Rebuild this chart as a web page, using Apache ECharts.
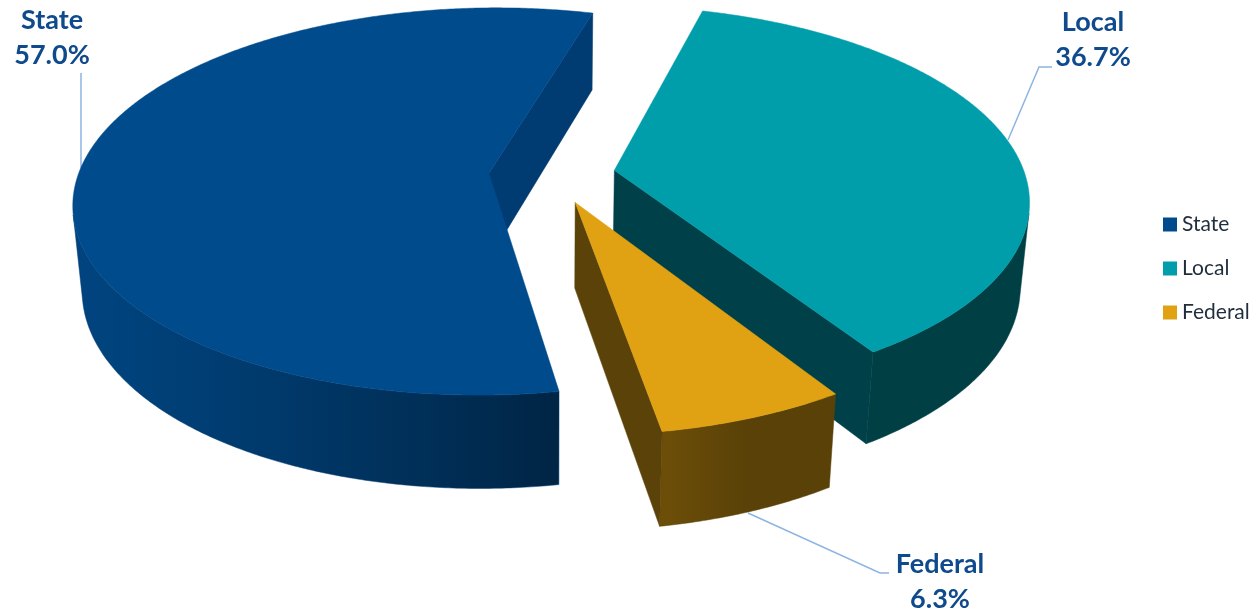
<!DOCTYPE html>
<html><head><meta charset="utf-8">
<script src="https://cdn.jsdelivr.net/npm/echarts@6/dist/echarts.min.js"></script>
<style>html,body{margin:0;padding:0;background:#fff}#c{width:1258px;height:613px}</style>
</head><body><div id="c"></div>
<script>
// ---- data ----
const categories = ['State', 'Local', 'Federal'];
const shares = [57.0, 36.7, 6.3];
const shareLabels = ['57.0%', '36.7%', '6.3%'];
const sliceColors = ['#004B8C', '#009EAA', '#E0A212'];

// ---- view / style ----
const firstSliceAngle = 170.3;            // degrees, clockwise from 12 o'clock
const PHI = 29.5 * Math.PI / 180, S = Math.sin(PHI), C = Math.cos(PHI);
const DIST = 6.07, FOC = 2445, CX = 552, CY = 259, THICK = 0.236, EXPLODE = 0.154;
const radialColors = ['#003B72', '#004149', '#5A4209'];
const labelPos = [[52, 38], [1093, 40], [940, 582]];
const leaderLines = [
  [[81, 73], [81, 168]],
  [[1052, 67], [1039, 67], [1008, 140]],
  [[889, 573], [880, 573], [748, 513]]
];
const labelColor = '#0E4A8C';
const leaderColor = '#8DB4E3';

function proj(X, Y, Z) {
  const depth = DIST - (Y * S + Z * C);
  const yp = Y * C - Z * S;
  return [CX + FOC * X / depth, CY - FOC * yp / depth];
}
function hexRgb(h) { return [1, 3, 5].map(k => parseInt(h.substr(k, 2), 16)); }
function shade(i, thetaDeg) {
  const f = 0.40 + 0.5 * Math.max(0, Math.cos((thetaDeg - 250) * Math.PI / 180));
  const c = hexRgb(sliceColors[i]).map(v => Math.round(v * f));
  return 'rgb(' + c.join(',') + ')';
}
const total = shares.reduce((a, b) => a + b, 0);
const cam = [0, DIST * S, DIST * C];
function depthOf(X, Y, Z) { return DIST - (Y * S + Z * C); }

function buildSlice(i) {
  let before = 0;
  for (let k = 0; k < i; k++) before += shares[k];
  const a0d = firstSliceAngle + 360 * before / total;
  const a1d = a0d + 360 * shares[i] / total;
  const a0 = a0d * Math.PI / 180, a1 = a1d * Math.PI / 180;
  const mid = (a0 + a1) / 2;
  const ox = EXPLODE * Math.sin(mid), oz = -EXPLODE * Math.cos(mid);
  const rim = (t, Y) => proj(ox + Math.sin(t), Y, oz - Math.cos(t));
  const faces = [];
  // outer wall: contiguous visible runs, each one polygon with a horizontal gradient
  const n = Math.max(4, Math.ceil((a1d - a0d) / 0.5));
  let run = null;
  const runs = [];
  for (let k = 0; k < n; k++) {
    const t0 = a0 + (a1 - a0) * k / n, t1 = a0 + (a1 - a0) * (k + 1) / n, tm = (t0 + t1) / 2;
    const P = [ox + Math.sin(tm), THICK / 2, oz - Math.cos(tm)];
    const dot = Math.sin(tm) * (cam[0] - P[0]) - Math.cos(tm) * (cam[2] - P[2]);
    if (dot <= 0) { run = null; continue; }
    if (!run) { run = { ts: [t0], depth: 0, cnt: 0 }; runs.push(run); }
    run.ts.push(t1);
    run.depth += depthOf(P[0], P[1], P[2]); run.cnt++;
  }
  runs.forEach(r => {
    const topPts = r.ts.map(t => rim(t, THICK));
    const botPts = r.ts.map(t => rim(t, 0)).reverse();
    const xs = topPts.map(p => p[0]).concat(botPts.map(p => p[0]));
    const xmin = Math.min.apply(null, xs), xmax = Math.max.apply(null, xs);
    const stops = [];
    for (let k = 0; k < r.ts.length; k += 4) {
      const t = r.ts[k];
      const x = (rim(t, THICK)[0] + rim(t, 0)[0]) / 2;
      stops.push({ offset: Math.min(1, Math.max(0, (x - xmin) / Math.max(1, xmax - xmin))), color: shade(i, (t * 180 / Math.PI) % 360) });
    }
    stops.sort((a, b) => a.offset - b.offset);
    faces.push({ pts: topPts.concat(botPts), fill: { type: 'linear', x: xmin, y: 0, x2: xmax, y2: 0, global: true, colorStops: stops }, stroke: stops[Math.floor(stops.length / 2)].color, depth: r.depth / r.cnt });
  });
  // radial faces
  [[a0, -1], [a1, 1]].forEach(([t, sg]) => {
    const nrm = [sg * Math.cos(t), 0, sg * Math.sin(t)];
    const P = [ox + 0.5 * Math.sin(t), THICK / 2, oz - 0.5 * Math.cos(t)];
    const dot = nrm[0] * (cam[0] - P[0]) + nrm[2] * (cam[2] - P[2]);
    if (dot <= 0) return;
    faces.push({ pts: [proj(ox, THICK, oz), rim(t, THICK), rim(t, 0), proj(ox, 0, oz)], fill: radialColors[i], stroke: radialColors[i], depth: depthOf(P[0], P[1], P[2]) });
  });
  faces.sort((a, b) => b.depth - a.depth);
  const top = [proj(ox, THICK, oz)];
  const m = Math.ceil((a1d - a0d) / 0.5);
  for (let k = 0; k <= m; k++) top.push(rim(a0 + (a1 - a0) * k / m, THICK));
  const children = [];
  children.push({ type: 'polyline', shape: { points: leaderLines[i] }, style: { stroke: leaderColor, lineWidth: 1.5, fill: null } });
  faces.forEach(f => children.push({ type: 'polygon', shape: { points: f.pts }, style: { fill: f.fill, stroke: f.stroke, lineWidth: 0.5 } }));
  children.push({ type: 'polygon', shape: { points: top }, style: { fill: sliceColors[i], stroke: sliceColors[i], lineWidth: 0.5 } });
  children.push({ type: 'text', x: labelPos[i][0], y: labelPos[i][1], style: {
    text: categories[i] + '\n' + shareLabels[i], fill: labelColor, font: 'bold 27px Lato',
    align: 'center', verticalAlign: 'middle', lineHeight: 35 } });
  return { type: 'group', children: children };
}

const chart = echarts.init(document.getElementById('c'), null, { renderer: 'canvas' });
chart.setOption({
  animation: false,
  backgroundColor: '#ffffff',
  legend: {
    orient: 'vertical', left: 1158, top: 209, itemWidth: 14, itemHeight: 14, itemGap: 23,
    icon: 'rect', data: categories,
    textStyle: { fontFamily: 'Lato', fontSize: 21, color: '#1F2D3D' }
  },
  series: categories.map((name, i) => ({
    type: 'custom', name: name, coordinateSystem: 'none', silent: true,
    itemStyle: { color: sliceColors[i] },
    data: [[shares[i]]],
    renderItem: () => buildSlice(i)
  }))
});
</script></body></html>
